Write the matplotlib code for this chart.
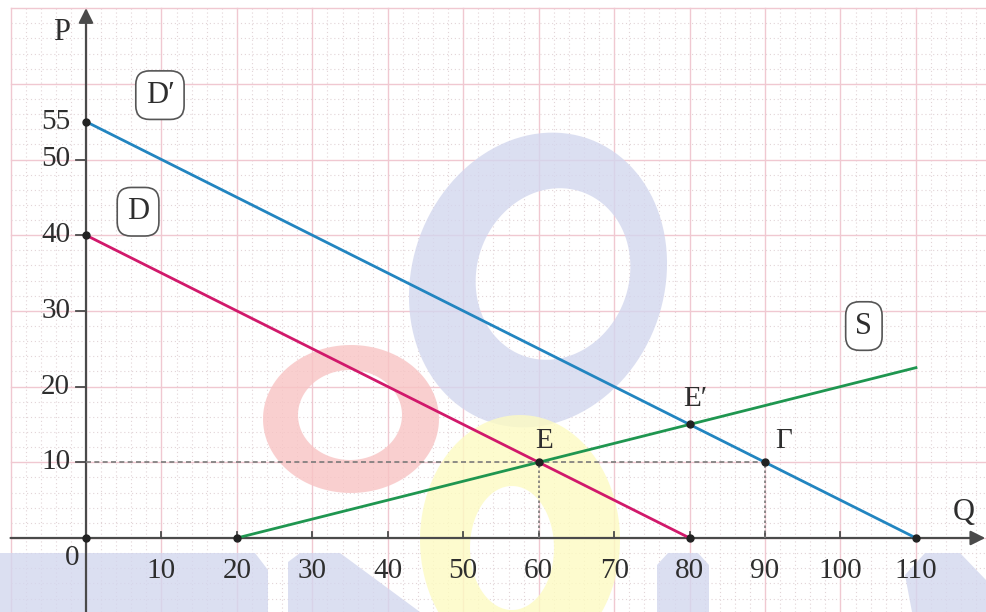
import numpy as np
import matplotlib
matplotlib.use("Agg")
import matplotlib.pyplot as plt
from matplotlib.patches import PathPatch, Polygon
from matplotlib.path import Path

plt.rcParams["font.family"] = ["Liberation Serif", "DejaVu Serif"]

# Curves (Q, P)
d_q = [0, 80]
d_p = [40, 0]
d2_q = [0, 110]
d2_p = [55, 0]
s_q = [20, 110]
s_p = [0, 22.5]

# marked points
pts_q = [0, 0, 0, 20, 60, 80, 90, 80, 110]
pts_p = [55, 40, 0, 0, 10, 15, 10, 0, 0]

x_ticks = [10, 20, 30, 40, 50, 60, 70, 80, 90, 100, 110]
y_ticks = [10, 20, 30, 40, 50, 55]

# point labels
lab_text = ["E", "E\u2032", "\u0393"]
lab_q = [60.7, 80.8, 92.4]
lab_p = [12.8, 18.4, 12.8]

# curve boxes
box_text = ["D\u2032", "D", "S"]
box_q = [9.8, 6.9, 103.1]
box_p = [58.5, 43.1, 28.0]

C_D = "#d1196b"
C_D2 = "#2285c0"
C_S = "#1f9650"
C_AX = "#4a4a4a"
C_TXT = "#2e2e2e"

# pixel -> data mapping of the reference picture
X0, Y0, SX, SY = 86, 538, 7.545, 7.57


def px(x, y):
    return (x - X0) / SX, (Y0 - y) / SY


def ellipse_pts(cx, cy, a, b, ang, n=120, rev=False):
    t = np.linspace(0, 2 * np.pi, n)
    if rev:
        t = t[::-1]
    c, s = np.cos(np.radians(ang)), np.sin(np.radians(ang))
    ex, ey = a * np.cos(t), b * np.sin(t)
    xs = cx + ex * c - ey * s
    ys = cy + ex * s + ey * c
    return [px(x, y) for x, y in zip(xs, ys)]


def ring(ax, outer, inner, color):
    o = ellipse_pts(*outer)
    i = ellipse_pts(*inner, rev=True)
    codes = ([Path.MOVETO] + [Path.LINETO] * (len(o) - 2) + [Path.CLOSEPOLY]) * 2
    ax.add_patch(PathPatch(Path(o + i, codes), facecolor=color, edgecolor="none",
                           alpha=0.8, zorder=1))


fig = plt.figure(figsize=(9.86, 6.12), dpi=100)
ax = fig.add_axes([0, 0, 1, 1])
xl = px(0, 0)[0], px(986, 0)[0]
yl = px(0, 612)[1], px(0, 0)[1]
ax.set_xlim(*xl)
ax.set_ylim(*yl)
ax.axis("off")

# graph paper
for q in np.arange(-10, 120, 2):
    if q % 10 == 0:
        ax.plot([q, q], [yl[0], 70], color="#f0c8d1", lw=1.0, zorder=0)
    else:
        ax.plot([q, q], [yl[0], 70], color="#e2d4d7", lw=0.8, ls=(0, (1, 2.5)), zorder=0)
for p in np.arange(-8, 71, 2):
    if p % 10 == 0:
        ax.plot([-10, xl[1]], [p, p], color="#f0c8d1", lw=1.0, zorder=0)
    else:
        ax.plot([-10, xl[1]], [p, p], color="#e2d4d7", lw=0.8, ls=(0, (1, 2.5)), zorder=0)

# watermark
ring(ax, (538, 280, 126, 150, 20), (553, 274, 76, 87, 20), "#d3d7ee")
ring(ax, (351, 419, 88, 74, 0), (350, 415, 52, 45, 0), "#f8c4c4")
ring(ax, (520, 540, 100, 125, 0), (512, 548, 42, 62, 0), "#fdfbc2")
blue_band = [
    [(0, 553), (255, 553), (268, 570), (268, 612), (0, 612)],
    [(288, 562), (300, 553), (340, 553), (420, 612), (288, 612)],
    [(657, 565), (668, 553), (698, 553), (709, 565), (709, 612), (657, 612)],
    [(905, 575), (925, 553), (960, 553), (986, 580), (986, 612), (912, 612)],
]
for poly in blue_band:
    ax.add_patch(Polygon([px(x, y) for x, y in poly], closed=True,
                         facecolor="#d3d7ee", edgecolor="none", alpha=0.8, zorder=1))

# axes with arrows
ax.annotate("", xy=(px(986, 0)[0] - 0.1, 0), xytext=(-10, 0),
            arrowprops=dict(arrowstyle="-|>", color=C_AX, lw=1.6,
                            mutation_scale=22, shrinkA=0, shrinkB=0), zorder=2)
ax.annotate("", xy=(0, 70), xytext=(0, yl[0]),
            arrowprops=dict(arrowstyle="-|>", color=C_AX, lw=1.6,
                            mutation_scale=22, shrinkA=0, shrinkB=0), zorder=2)
for q in x_ticks[:-1]:
    ax.plot([q, q], [0, 0.85], color=C_AX, lw=1.3, zorder=2)
for p in y_ticks[:-1]:
    ax.plot([-1.3, 0], [p, p], color=C_AX, lw=1.3, zorder=2)

for q in x_ticks:
    ax.text(q, -4.4, str(q), ha="center", va="center", fontsize=21, color=C_TXT)
for p in y_ticks:
    ax.text(-2.1, p, str(p), ha="right", va="center", fontsize=21, color=C_TXT)
ax.text(-1.9, -2.6, "0", ha="center", va="center", fontsize=21, color=C_TXT)
ax.text(-3.2, 66.8, "P", ha="center", va="center", fontsize=22, color=C_TXT)
ax.text(116.3, 3.4, "Q", ha="center", va="center", fontsize=22, color=C_TXT)

# guide lines
ax.plot([0, 90], [10, 10], color="#7a7a7a", lw=1.2, ls=(0, (3, 2)), zorder=2)
ax.plot([60, 60], [0, 10], color="#7a7a7a", lw=1.2, ls=(0, (1.5, 1.5)), zorder=2)
ax.plot([90, 90], [0, 10], color="#7a7a7a", lw=1.2, ls=(0, (1.5, 1.5)), zorder=2)

# curves
ax.plot(d_q, d_p, color=C_D, lw=2.0, zorder=3)
ax.plot(d2_q, d2_p, color=C_D2, lw=2.0, zorder=3)
ax.plot(s_q, s_p, color=C_S, lw=2.0, zorder=3)
ax.plot(pts_q, pts_p, "o", color="#222222", ms=5, ls="none", zorder=4)

for t, q, p in zip(lab_text, lab_q, lab_p):
    ax.text(q, p, t, ha="center", va="center", fontsize=21, color=C_TXT, zorder=5)

# curve name boxes
for t, q, p in zip(box_text, box_q, box_p):
    ax.text(q, p, t, ha="center", va="center", fontsize=22, color=C_TXT, zorder=6,
            bbox=dict(boxstyle="round,pad=0.32,rounding_size=0.45", fc="white",
                      ec="#555555", lw=1.2))

fig.savefig("out.png", dpi=100)
